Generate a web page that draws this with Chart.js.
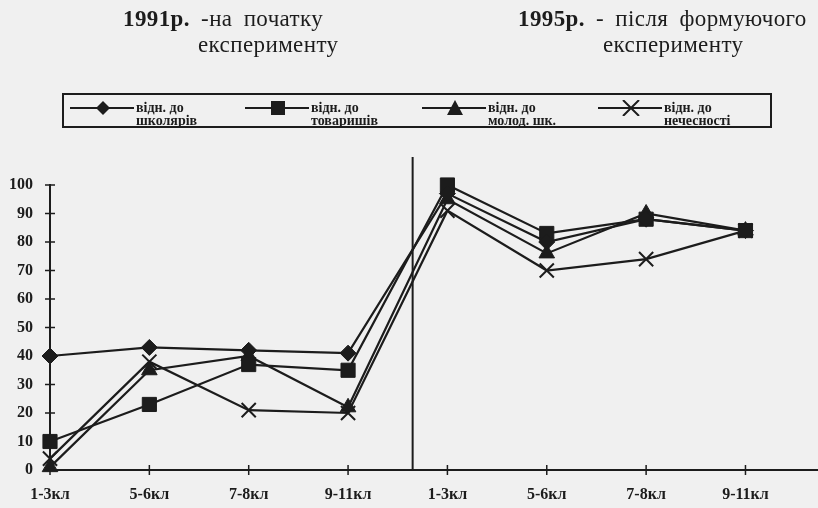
<!DOCTYPE html>
<html>
<head>
<meta charset="utf-8">
<script src="https://cdn.jsdelivr.net/npm/chart.js@4/dist/chart.umd.min.js"></script>
<style>
body{margin:0;background:#f0f0f0;}
#wrap{position:relative;width:818px;height:508px;overflow:hidden;font-family:"Liberation Serif","DejaVu Serif",serif;color:#1c1c1c;}
#chart{position:absolute;left:0;top:0;}
.ttl{position:absolute;font-size:23px;white-space:nowrap;line-height:1;letter-spacing:0.4px;word-spacing:5px;}
#legend{position:absolute;left:62px;top:93px;width:706px;height:31px;border:2px solid #1c1c1c;}
.item{position:absolute;top:100px;font-weight:bold;font-size:14px;line-height:13px;}
.item svg{position:absolute;left:0;top:0;}
.item span{position:absolute;left:66px;top:1px;white-space:nowrap;}
</style>
</head>
<body>
<div id="wrap">
  <canvas id="chart" width="818" height="508"></canvas>
  <div class="ttl" style="left:123px;top:7px"><b>1991р.</b> -на початку</div>
  <div class="ttl" style="left:198px;top:33px">експерименту</div>
  <div class="ttl" style="left:518px;top:7px"><b>1995р.</b> - після формуючого</div>
  <div class="ttl" style="left:603px;top:33px">експерименту</div>
  <div id="legend"></div>
  <div id="items"></div>
</div>
<script>
// категорії (класи) до і після експерименту
var categories = ["1-3кл","5-6кл","7-8кл","9-11кл","1-3кл","5-6кл","7-8кл","9-11кл"];
var pupils     = [40, 43, 42, 41, 97, 80, 88, 84];   // відн. до школярів
var mates      = [10, 23, 37, 35, 100, 83, 88, 84];  // відн. до товаришів
var juniors    = [1, 35, 40, 22, 95, 76, 90, 84];    // відн. до молод. шк.
var dishonesty = [4, 38, 21, 20, 91, 70, 74, 84];    // відн. до нечесності
var seriesNames = [["відн. до","школярів"],["відн. до","товаришів"],["відн. до","молод. шк."],["відн. до","нечесності"]];
var yTicks = [0,10,20,30,40,50,60,70,80,90,100];

var ink = "#1c1c1c";
var dividerAt = 3.65;

function pts(arr){
	return arr.map(function(v,i){ return {x:i, y:v}; });
}

function ds(name, arr, style, r, bw){
	return {
		label: name.join(" "),
		data: pts(arr),
		borderColor: ink,
		backgroundColor: ink,
		borderWidth: 2.2,
		pointStyle: style,
		pointRadius: r,
		pointBorderWidth: bw,
		pointBackgroundColor: ink,
		pointBorderColor: ink,
		tension: 0,
		clip: false
	};
}

// хрестики на осях + розділова лінія
var axisMarks = {
	id: "axisMarks",
	afterDraw: function(chart){
		var c = chart.ctx, xs = chart.scales.x, ys = chart.scales.y, a = chart.chartArea;
		c.save();
		c.strokeStyle = ink;
		c.lineWidth = 1.5;
		ys.ticks.forEach(function(t){
			var y = ys.getPixelForValue(t.value);
			c.beginPath(); c.moveTo(a.left-5, y); c.lineTo(a.left+5, y); c.stroke();
		});
		xs.ticks.forEach(function(t){
			var x = xs.getPixelForValue(t.value);
			c.beginPath(); c.moveTo(x, a.bottom-5); c.lineTo(x, a.bottom+5); c.stroke();
		});
		var dx = xs.getPixelForValue(dividerAt);
		c.lineWidth = 2;
		c.beginPath(); c.moveTo(dx, 157); c.lineTo(dx, a.bottom); c.stroke();
		c.restore();
	}
};

var ctx = document.getElementById("chart").getContext("2d");
var chart = new Chart(ctx, {
	type: "line",
	data: {
		datasets: [
			ds(seriesNames[0], pupils, "rectRot", 8, 1),
			ds(seriesNames[1], mates, "rect", 10, 1),
			ds(seriesNames[2], juniors, "triangle", 9, 1),
			ds(seriesNames[3], dishonesty, "crossRot", 10, 2)
		]
	},
	options: {
		responsive: false,
		animation: false,
		layout: {autoPadding: false, padding: {top: 185, right: 0, left: 0, bottom: 0}},
		plugins: {legend: {display: false}, tooltip: {enabled: false}},
		scales: {
			x: {
				type: "linear",
				min: 0,
				max: 7.73,
				afterBuildTicks: function(s){ s.ticks = categories.map(function(c,i){ return {value:i}; }); },
				afterFit: function(s){ s.height = 38; },
				grid: {display: false},
				border: {color: ink, width: 2},
				ticks: {
					autoSkip: false, maxRotation: 0, padding: 7, color: ink,
					font: {family: "'Liberation Serif', serif", weight: "bold", size: 16},
					callback: function(v, i){ return categories[i]; }
				}
			},
			y: {
				min: 0,
				max: 100,
				afterBuildTicks: function(s){ s.ticks = yTicks.map(function(v){ return {value:v}; }); },
				afterFit: function(s){ s.width = 50; },
				grid: {display: false},
				border: {color: ink, width: 2},
				ticks: {
					padding: 9, color: ink,
					font: {family: "'Liberation Serif', serif", weight: "bold", size: 16}
				}
			}
		}
	},
	plugins: [axisMarks]
});

// легенда: зразки ліній з маркерами
var legendX = [70, 245, 422, 598];
var marks = [
	'<polygon points="33,1 40,8 33,15 26,8" fill="'+ink+'"/>',
	'<rect x="26" y="1" width="14" height="14" fill="'+ink+'"/>',
	'<polygon points="33,0 41,15 25,15" fill="'+ink+'"/>',
	'<path d="M25,0 L41,16 M41,0 L25,16" stroke="'+ink+'" stroke-width="2"/>'
];
var html = "";
for(var i = 0; i < seriesNames.length; i++){
	html += '<div class="item" style="left:'+legendX[i]+'px">'
		+ '<svg width="66" height="16"><line x1="0" y1="8" x2="64" y2="8" stroke="'+ink+'" stroke-width="2"/>'+marks[i]+'</svg>'
		+ '<span>'+seriesNames[i][0]+'<br>'+seriesNames[i][1]+'</span></div>';
}
document.getElementById("items").innerHTML = html;
</script>
</body>
</html>
